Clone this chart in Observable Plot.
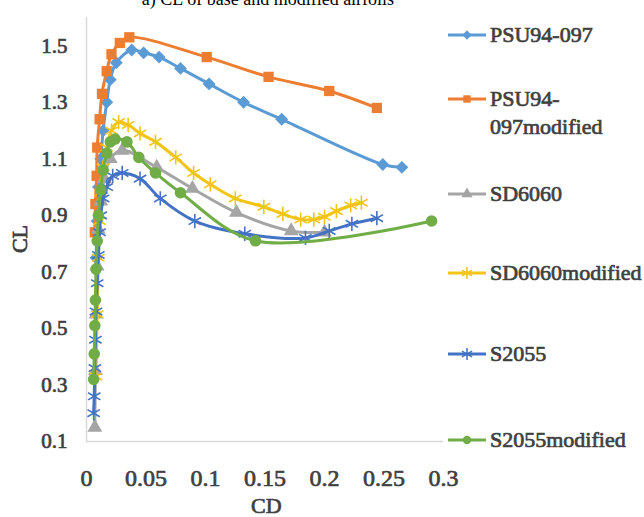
<!DOCTYPE html>
<html>
<head>
<meta charset="utf-8">
<script src="https://cdn.jsdelivr.net/npm/d3@7"></script>
<script src="https://cdn.jsdelivr.net/npm/@observablehq/plot@0.6"></script>
<style>
  body { margin: 0; background: #fff; }
  #wrap { position: relative; width: 644px; height: 517px; overflow: hidden; background: #fff;
          font-family: "Liberation Serif", "Times New Roman", serif; }
  #wrap svg { position: absolute; left: 0; top: 0; }
  /* heavy serif labels: regular face thickened with an outline */
  #wrap svg text { font-weight: normal; stroke: #404040; stroke-width: 0.7px; }
  .title { position: absolute; left: 0; width: 536px; top: -10px; text-align: center;
           font-size: 18px; line-height: 18px; color: #000; white-space: nowrap; }
  .atitle { position: absolute; font-size: 22px; color: #404040; white-space: nowrap;
            -webkit-text-stroke: 0.7px #404040; }
  .leg { position: absolute; left: 448px; font-size: 22px; color: #404040;
         line-height: 28px; white-space: nowrap; -webkit-text-stroke: 0.7px #404040; }
  .leg svg { position: static !important; vertical-align: top; }
  .leg span { position: absolute; left: 42px; top: 0; }
</style>
</head>
<body>
<div id="wrap"></div>
<script>
// Lift coefficient CL against drag coefficient CD for each airfoil
const seriesNames = ["PSU94-097", "PSU94-097modified", "SD6060", "SD6060modified", "S2055", "S2055modified"];
const seriesColors = ["#5b9bd5", "#ed7d31", "#a5a5a5", "#f2c516", "#4472c4", "#70ad47"];
const seriesSymbols = ["diamond2", "square", "triangle", "star6", "star6", "circle"];

const psuCD = [0.008, 0.009, 0.010, 0.012, 0.014, 0.017, 0.020, 0.025, 0.038, 0.048, 0.061, 0.079, 0.103, 0.132, 0.164, 0.249, 0.265];
const psuCL = [0.75, 0.88, 1.00, 1.10, 1.20, 1.30, 1.38, 1.44, 1.485, 1.475, 1.46, 1.42, 1.365, 1.30, 1.24, 1.08, 1.07];

const psuModCD = [0.007, 0.0075, 0.0085, 0.009, 0.011, 0.013, 0.017, 0.021, 0.028, 0.036, 0.101, 0.153, 0.204, 0.244];
const psuModCL = [0.84, 0.94, 1.04, 1.14, 1.24, 1.33, 1.41, 1.47, 1.51, 1.53, 1.46, 1.39, 1.34, 1.28];

const sdCD = [0.007, 0.0075, 0.008, 0.009, 0.010, 0.012, 0.015, 0.020, 0.030, 0.059, 0.089, 0.126, 0.172, 0.200];
const sdCL = [0.15, 0.35, 0.55, 0.72, 0.85, 0.95, 1.03, 1.10, 1.13, 1.07, 0.995, 0.91, 0.845, 0.84];

const sdModCD = [0.008, 0.009, 0.010, 0.011, 0.012, 0.014, 0.017, 0.021, 0.027, 0.035, 0.045, 0.058, 0.075, 0.090, 0.104, 0.125, 0.149, 0.165, 0.180, 0.191, 0.200, 0.210, 0.222, 0.231];
const sdModCL = [0.33, 0.55, 0.75, 0.88, 0.98, 1.07, 1.14, 1.20, 1.23, 1.22, 1.19, 1.16, 1.105, 1.05, 1.01, 0.96, 0.93, 0.905, 0.885, 0.885, 0.895, 0.915, 0.935, 0.945];

const sCD = [0.006, 0.0065, 0.007, 0.0075, 0.008, 0.009, 0.010, 0.011, 0.012, 0.014, 0.017, 0.022, 0.030, 0.045, 0.062, 0.091, 0.133, 0.184, 0.204, 0.223, 0.244];
const sCL = [0.20, 0.26, 0.36, 0.46, 0.56, 0.66, 0.76, 0.84, 0.90, 0.96, 1.00, 1.04, 1.05, 1.03, 0.96, 0.88, 0.835, 0.82, 0.845, 0.87, 0.89];

const sModCD = [0.006, 0.0065, 0.007, 0.0075, 0.008, 0.009, 0.010, 0.012, 0.014, 0.017, 0.020, 0.024, 0.034, 0.044, 0.058, 0.079, 0.142, 0.290];
const sModCL = [0.32, 0.41, 0.51, 0.60, 0.71, 0.81, 0.90, 0.99, 1.06, 1.12, 1.16, 1.17, 1.16, 1.105, 1.05, 0.98, 0.81, 0.88];

const xTicks = [0, 0.05, 0.1, 0.15, 0.2, 0.25, 0.3];
const xTickLabels = ["0", "0.05", "0.1", "0.15", "0.2", "0.25", "0.3"];
const yTicks = [0.1, 0.3, 0.5, 0.7, 0.9, 1.1, 1.3, 1.5];
const yTickLabels = ["0.1", "0.3", "0.5", "0.7", "0.9", "1.1", "1.3", "1.5"];

const seriesCD = [psuCD, psuModCD, sdCD, sdModCD, sCD, sModCD];
const seriesCL = [psuCL, psuModCL, sdCL, sdModCL, sCL, sModCL];

const rows = seriesNames.map((name, i) =>
  seriesCD[i].map((cd, j) => ({series: name, cd, cl: seriesCL[i][j]})));

// six-armed star marker (an "x" crossed by a vertical stroke)
const star6 = {
  draw(context, size) {
    const r = Math.sqrt(size) * 0.62;
    for (let k = 0; k < 3; ++k) {
      const a = Math.PI / 2 + k * Math.PI / 3;
      const dx = r * Math.cos(a), dy = r * Math.sin(a);
      context.moveTo(-dx, -dy);
      context.lineTo(dx, dy);
    }
  }
};
const symbolTypes = {diamond2: d3.symbolDiamond2, square: d3.symbolSquare, triangle: d3.symbolTriangle,
  star6, circle: d3.symbolCircle};

const axisColor = "#d9d9d9";
const textColor = "#404040";

const marks = [
  Plot.ruleY([0.1], {stroke: axisColor, strokeWidth: 1.5}),
  Plot.ruleX([0], {stroke: axisColor, strokeWidth: 1.5}),
  Plot.axisX({ticks: xTicks, tickSize: 0, tickPadding: 27, label: null,
    tickFormat: d => xTickLabels[xTicks.indexOf(d)], fontSize: 24, fill: textColor}),
  Plot.axisY({ticks: yTicks, tickSize: 0, tickPadding: 19, label: null,
    tickFormat: d => yTickLabels[yTicks.findIndex(t => Math.abs(t - d) < 1e-9)], fontSize: 21, fill: textColor})
];

// each airfoil is drawn as a smoothed line and then its markers, later series on top
rows.forEach((data, i) => {
  const sym = seriesSymbols[i];
  marks.push(Plot.line(data, {x: "cd", y: "cl", stroke: seriesColors[i], strokeWidth: 3, curve: "catmull-rom"}));
  if (sym === "star6") {
    marks.push(Plot.dot(data, {x: "cd", y: "cl", symbol: () => star6, stroke: seriesColors[i], strokeWidth: 1.6, r: 6.5}));
  } else {
    marks.push(Plot.dot(data, {x: "cd", y: "cl", symbol: () => symbolTypes[sym], fill: seriesColors[i], stroke: "none",
      r: sym === "triangle" ? 5.5 : 5.8}));
  }
});

const chart = Plot.plot({
  width: 644,
  height: 517,
  marginLeft: 86,
  marginRight: 201,
  marginTop: 17,
  marginBottom: 76,
  x: {domain: [0, 0.3]},
  y: {domain: [0.1, 1.6]},
  symbol: {type: "identity"},
  style: {fontFamily: "'Liberation Serif', 'Times New Roman', serif", background: "#fff", overflow: "visible"},
  marks
});

const wrap = document.getElementById("wrap");
wrap.appendChild(chart);

// chart title, axis titles
const title = document.createElement("div");
title.className = "title";
title.textContent = "a) CL of base and modified airfoils";
wrap.appendChild(title);

const ytitle = document.createElement("div");
ytitle.className = "atitle";
ytitle.textContent = "CL";
ytitle.style.left = "6px";
ytitle.style.top = "226px";
ytitle.style.transform = "rotate(-90deg)";
wrap.appendChild(ytitle);

const xtitle = document.createElement("div");
xtitle.className = "atitle";
xtitle.textContent = "CD";
xtitle.style.left = "251px";
xtitle.style.top = "493px";
wrap.appendChild(xtitle);

// legend entries
const legendLabels = [["PSU94-097"], ["PSU94-", "097modified"], ["SD6060"], ["SD6060modified"], ["S2055"], ["S2055modified"]];
const legendY = [35, 99, 194, 273, 354, 440];
seriesNames.forEach((name, i) => {
  const div = document.createElement("div");
  div.className = "leg";
  div.style.top = (legendY[i] - 14) + "px";
  const s = d3.create("svg").attr("width", 40).attr("height", 28);
  s.append("line").attr("x1", 0).attr("x2", 38).attr("y1", 14).attr("y2", 14)
    .attr("stroke", seriesColors[i]).attr("stroke-width", 3);
  const sym = seriesSymbols[i];
  const path = s.append("path").attr("transform", "translate(19,14)")
    .attr("d", d3.symbol(symbolTypes[sym], sym === "star6" ? 90 : 55)());
  if (sym === "star6") path.attr("fill", "none").attr("stroke", seriesColors[i]).attr("stroke-width", 1.5);
  else path.attr("fill", seriesColors[i]);
  div.appendChild(s.node());
  const span = document.createElement("span");
  span.innerHTML = legendLabels[i].join("<br>");
  div.appendChild(span);
  wrap.appendChild(div);
});
</script>
</body>
</html>
